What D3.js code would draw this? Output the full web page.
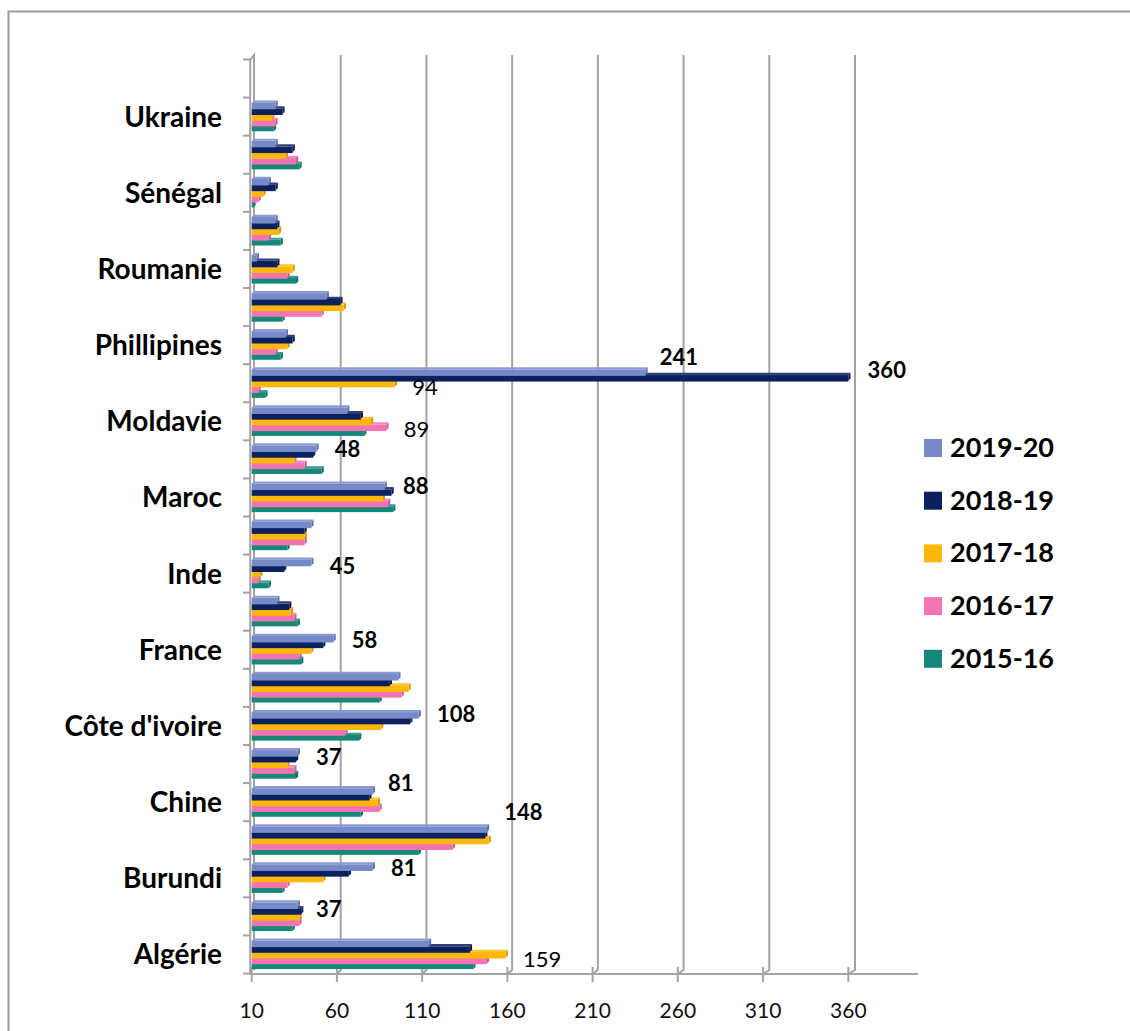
<!DOCTYPE html>
<html>
<head>
<meta charset="utf-8">
<script src="https://cdn.jsdelivr.net/npm/d3@7/dist/d3.min.js"></script>
<style>
  html, body { margin: 0; padding: 0; background: #fff; }
  svg { display: block; }
</style>
</head>
<body>
<svg id="chart" width="1130" height="1031"></svg>
<script>
// ---------- DATA ----------
// bands from bottom (index 0) to top; "" = category whose label is not shown
const categories = ["Algérie", "", "Burundi", "", "Chine", "", "Côte d'ivoire", "", "France", "", "Inde", "",
  "Maroc", "", "Moldavie", "", "Phillipines", "", "Roumanie", "", "Sénégal", "", "Ukraine", ""];
const seriesNames = ["2019-20", "2018-19", "2017-18", "2016-17", "2015-16"];
const seriesColors = ["#7689C9", "#0C205E", "#FFB80A", "#F274B3", "#16887A"];
const v2019_20 = [114, 37, 81, 148, 81, 37, 108, 96, 58, 25, 45, 45, 88, 48, 66, 241, 30, 54, 13, 24, 20, 24, 24, null];
const v2018_19 = [138, 39, 67, 147, 79, 36, 103, 91, 52, 32, 29, 41, 92, 46, 74, 360, 34, 62, 25, 25, 24, 34, 28, null];
const v2017_18 = [159, 38, 52, 149, 84, 31, 86, 102, 45, 33, 15, 41, 87, 35, 80, 94, 31, 64, 34, 26, 17, 30, 22, null];
const v2016_17 = [148, 38, 31, 128, 85, 35, 65, 98, 38, 35, 14, 41, 90, 41, 89, 14, 24, 51, 31, 20, 14, 36, 24, null];
const v2015_16 = [140, 34, 28, 108, 74, 36, 73, 85, 39, 37, 20, 31, 93, 51, 76, 18, 27, 28, 36, 27, 11, 38, 23, null];
const xTickValues = [10, 60, 110, 160, 210, 260, 310, 360];
const xMin = 10, xMax = 400;
// data labels: [band index, series index, bold]
const dataLabels = [
  [0, 2, false], [1, 0, true], [2, 0, true], [3, 0, true], [4, 0, true], [5, 0, true],
  [6, 0, true], [8, 0, true], [10, 0, true], [12, 0, true], [13, 0, true],
  [14, 3, false], [15, 2, false], [15, 0, true], [15, 1, true]
];

const values = [v2019_20, v2018_19, v2017_18, v2016_17, v2015_16];

// ---------- LAYOUT ----------
const svg = d3.select("#chart");
const FONT = "Lato, 'Open Sans', sans-serif";
const GRID = "#a3a3a3";
const depth = 2.2;

const xF = d3.scaleLinear().domain([xMin, xMax]).range([251.7, 251.7 + 390 * 1.7046]);
const xB = d3.scaleLinear().domain([xMin, xMax]).range([255, 255 + 390 * 1.7143]);
const bandIdx = d3.range(categories.length);
const y = d3.scaleBand().domain(bandIdx).range([973.5, 59.5]);
const yInner = d3.scaleBand().domain(d3.range(seriesNames.length)).range([3, 31.5]);

// frame
svg.append("path").attr("d", "M8.5,1031 L8.5,11.5 L1130,11.5")
  .attr("fill", "none").attr("stroke", "#9a9a9a").attr("stroke-width", 2);

// gridlines (back wall) with bend to front ticks
const yTop = 55, yBot = 970, yAxis = 974;
svg.append("g").selectAll("path").data(xTickValues.filter(v => v > xMin)).join("path")
  .attr("d", v => `M${xB(v)},${yTop} L${xB(v)},${yBot} L${xF(v)},${yAxis}`)
  .attr("fill", "none").attr("stroke", GRID).attr("stroke-width", 2);

// y axis (front + back wall edge)
svg.append("path")
  .attr("d", `M${xF(xMin) - 1.5},${yAxis} L${xF(xMin) - 1.5},${y.range()[1] + 0.5} L${xB(xMin) - 1},${yTop} L${xB(xMin) - 1},${yBot}`)
  .attr("fill", "none").attr("stroke", GRID).attr("stroke-width", 2);
// y ticks at band boundaries
const yBounds = bandIdx.map(i => y(i) + y.bandwidth()).concat([y(categories.length - 1)]);
svg.append("g").selectAll("line").data(yBounds).join("line")
  .attr("x1", 243).attr("x2", xF(xMin) - 1.5)
  .attr("y1", d => d).attr("y2", d => d)
  .attr("stroke", GRID).attr("stroke-width", 2);

// x axis
svg.append("line").attr("x1", xF(xMin) - 2.5).attr("x2", xF(xMax) + 1.5)
  .attr("y1", yAxis).attr("y2", yAxis).attr("stroke", GRID).attr("stroke-width", 2);
svg.append("g").selectAll("line").data(xTickValues).join("line")
  .attr("x1", d => xF(d)).attr("x2", d => xF(d))
  .attr("y1", 967).attr("y2", 982)
  .attr("stroke", GRID).attr("stroke-width", 2);
svg.append("g").selectAll("text").data(xTickValues).join("text")
  .attr("x", d => xF(d)).attr("y", 1017.5)
  .attr("text-anchor", "middle")
  .attr("font-family", FONT).attr("font-size", 21).attr("fill", "#111")
  .text(d => d);

// bars (3D look) — draw bottom series first so upper bars cover hidden top faces
const barsG = svg.append("g");
bandIdx.forEach(b => {
  for (let s = seriesNames.length - 1; s >= 0; s--) {
    const v = values[s][b];
    if (v == null) continue;
    const y0 = y(b) + yInner(s);
    const h = yInner.bandwidth();
    const x0 = xF(xMin), x1 = xF(v);
    const col = d3.color(seriesColors[s]);
    const light = d3.interpolateRgb(col, "#ffffff")(0.15);
    const dark = col.darker(0.5);
    const ext = s === seriesNames.length - 1 ? 0 : 0.8; // overlap to hide seams
    // top face
    barsG.append("path")
      .attr("d", `M${x0},${y0 + depth} L${x0 + depth},${y0} L${x1 + depth},${y0} L${x1},${y0 + depth} Z`)
      .attr("fill", light);
    // side face
    barsG.append("path")
      .attr("d", `M${x1},${y0 + depth} L${x1 + depth},${y0} L${x1 + depth},${y0 + h} L${x1},${y0 + h + depth} Z`)
      .attr("fill", dark);
    // front face
    barsG.append("rect")
      .attr("x", x0).attr("y", y0 + depth)
      .attr("width", Math.max(0, x1 - x0)).attr("height", h + ext)
      .attr("fill", col.formatHex());
  }
});

// category labels
svg.append("g").selectAll("text").data(bandIdx.filter(i => categories[i] !== "")).join("text")
  .attr("x", 222).attr("y", i => y(i) + y.bandwidth() / 2 + 10)
  .attr("text-anchor", "end")
  .attr("font-family", FONT).attr("font-weight", "bold").attr("font-size", 28).attr("fill", "#000")
  .text(i => categories[i]);

// data labels (placement nudges, in px)
const nudges = [[15, 6], [16, 6], [16, 3], [15, -15], [13, -6], [16, 6], [16, 1], [16, 3], [16, 6],
  [16, 2], [16, 3], [15, 4], [15, 6], [12, -13], [17, -6]];
svg.append("g").selectAll("text").data(dataLabels).join("text")
  .attr("x", (d, i) => xF(values[d[1]][d[0]]) + 2.3 + nudges[i][0])
  .attr("y", (d, i) => y(d[0]) + yInner(d[1]) + yInner.bandwidth() / 2 + nudges[i][1] + 8)
  .attr("font-family", FONT).attr("font-weight", d => d[2] ? "bold" : "normal")
  .attr("font-size", 22).attr("fill", "#000")
  .text(d => values[d[1]][d[0]]);

// legend
const leg = svg.append("g").selectAll("g").data(seriesNames).join("g")
  .attr("transform", (d, i) => `translate(924, ${439 + i * 52.7})`);
leg.append("rect").attr("width", 18).attr("height", 18).attr("fill", (d, i) => seriesColors[i]);
leg.append("text").attr("x", 26).attr("y", 18)
  .attr("font-family", FONT).attr("font-weight", "bold").attr("font-size", 27).attr("fill", "#000")
  .text(d => d);
</script>
</body>
</html>
